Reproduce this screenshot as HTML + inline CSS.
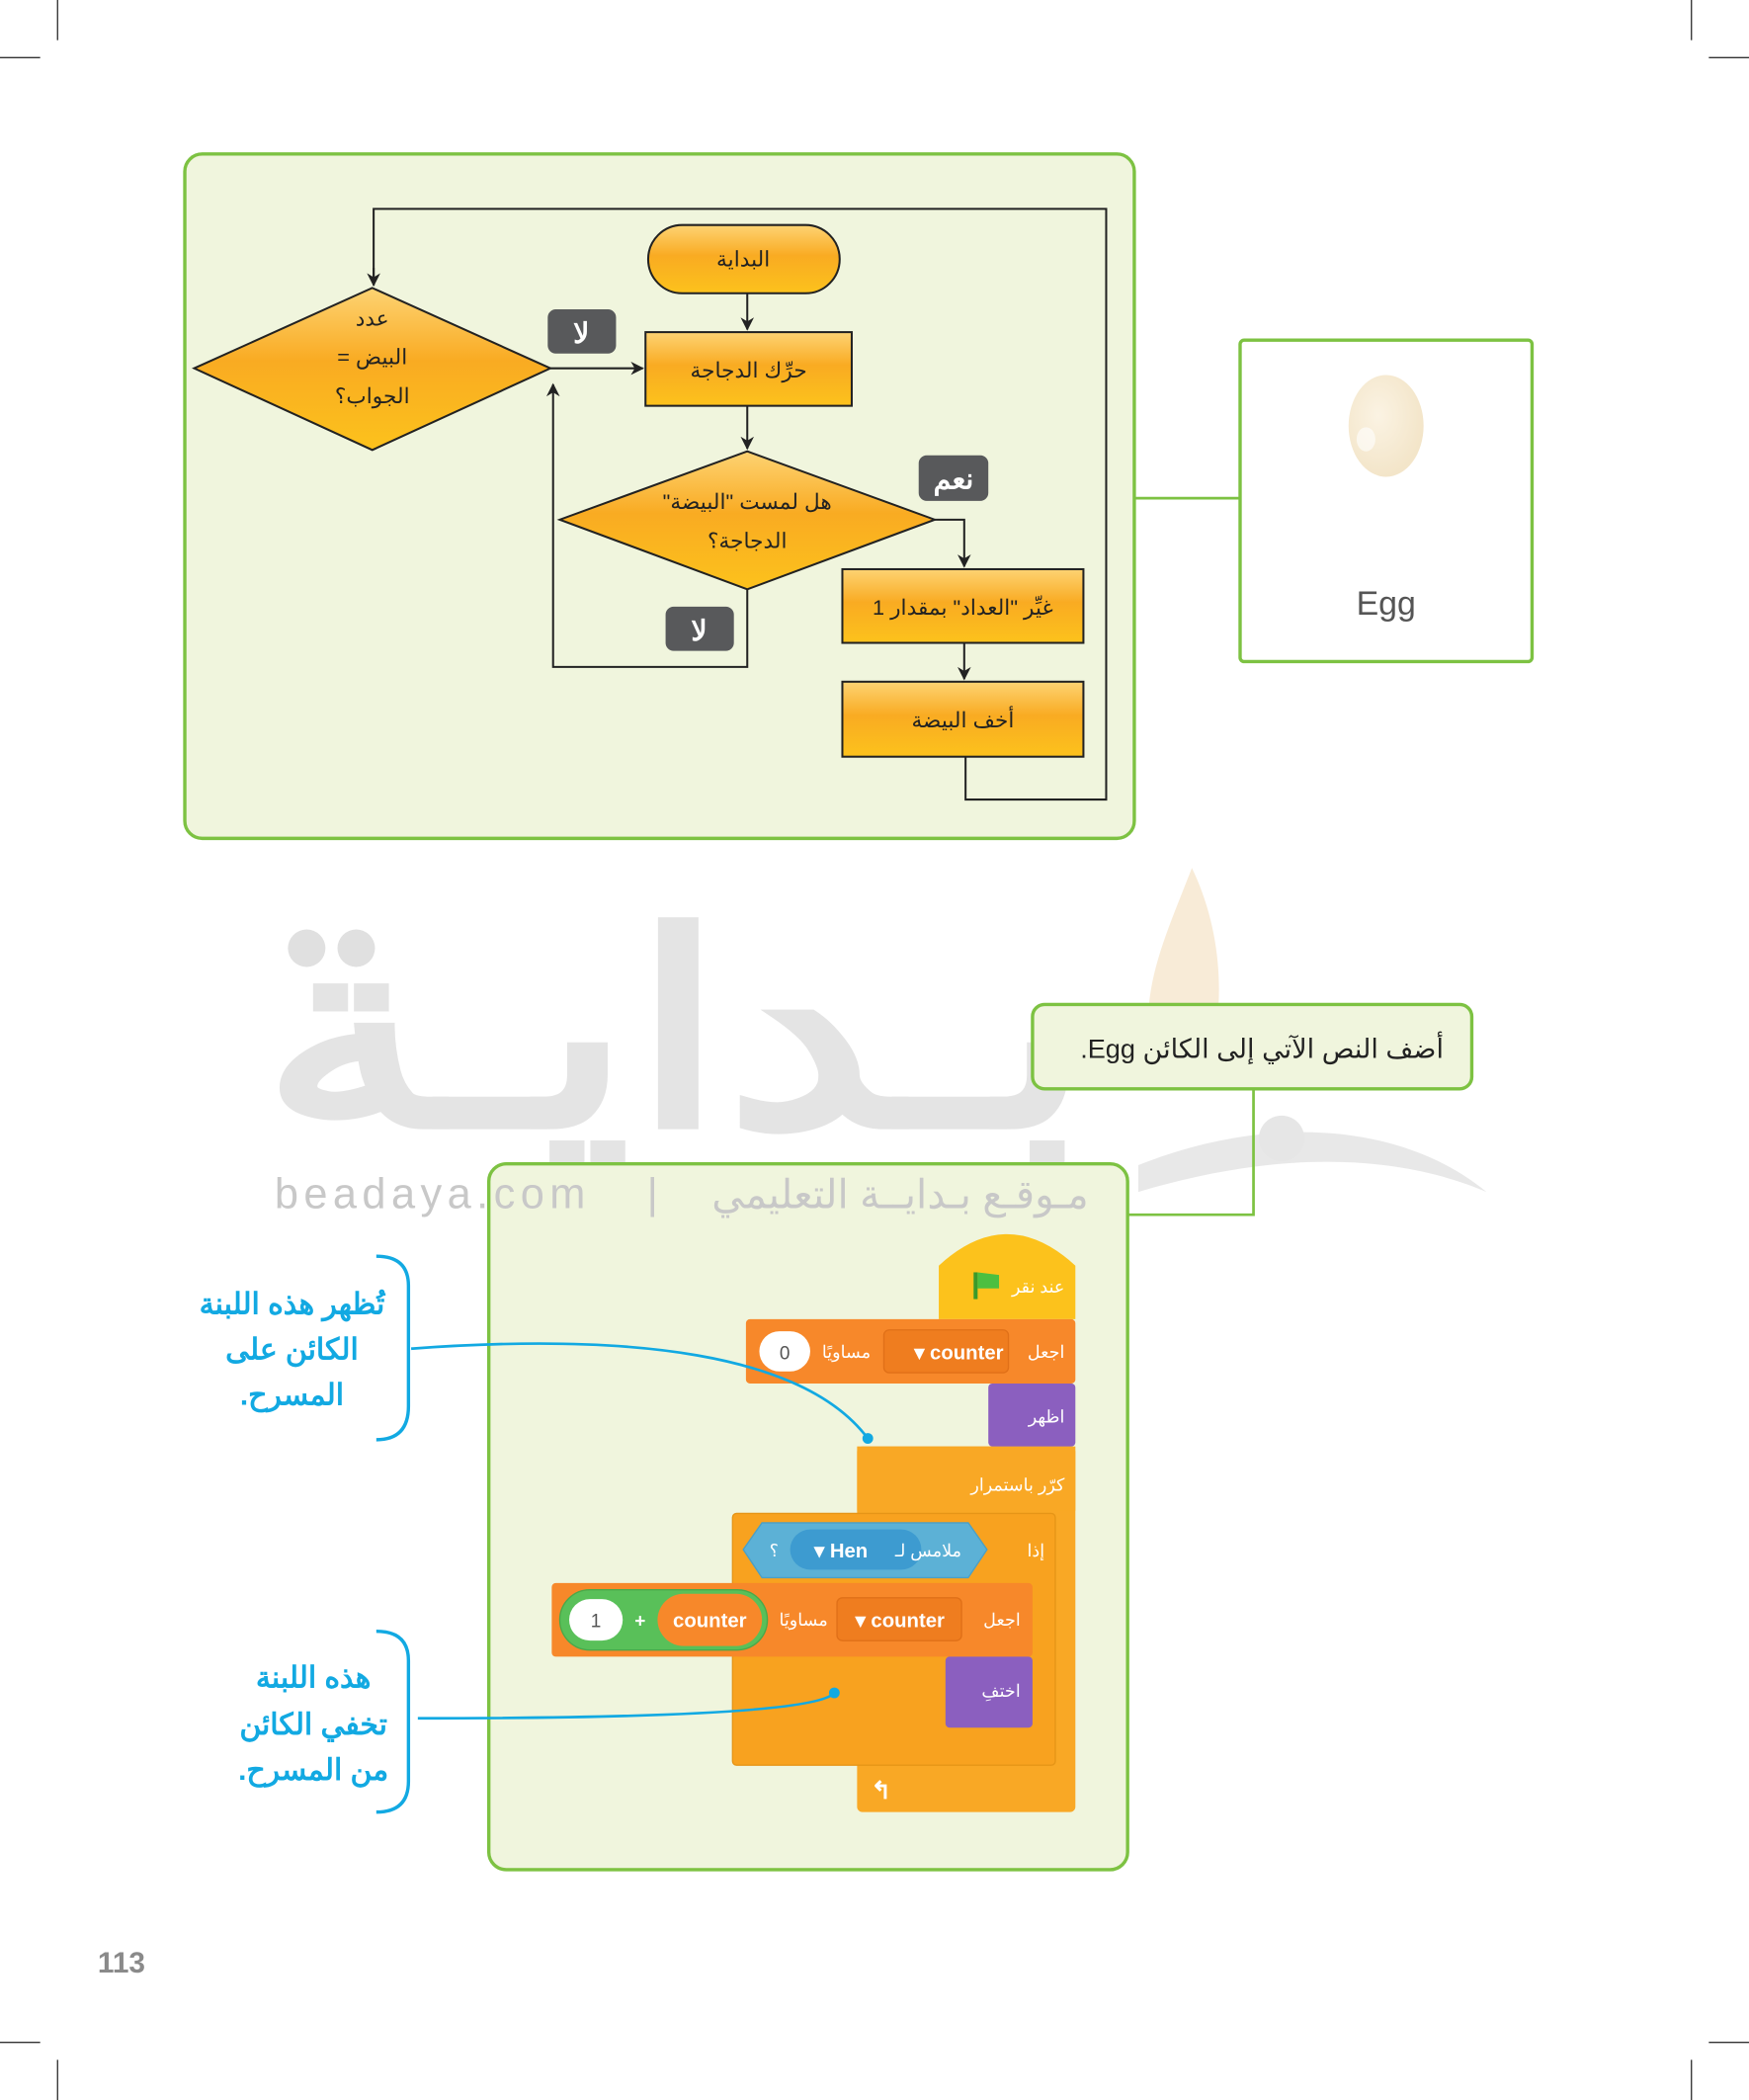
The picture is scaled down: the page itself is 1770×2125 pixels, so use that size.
<!DOCTYPE html>
<html><head><meta charset="utf-8">
<style>
html,body{margin:0;padding:0;background:#fff;}
svg{display:block;}
text{font-family:"Liberation Sans","Noto Sans CJK SC",sans-serif;}
</style></head>
<body>
<svg width="1770" height="2125" viewBox="0 0 1306 1568" preserveAspectRatio="none" xmlns="http://www.w3.org/2000/svg">
<defs>
<linearGradient id="og" x1="0" y1="0" x2="0" y2="1">
<stop offset="0" stop-color="#fdd373"/><stop offset="0.45" stop-color="#f9ab22"/><stop offset="1" stop-color="#fcc21c"/>
</linearGradient>
<radialGradient id="eg" cx="0.4" cy="0.4" r="0.6">
<stop offset="0" stop-color="#fbf3e3"/><stop offset="1" stop-color="#f3e5c9"/>
</radialGradient>
<marker id="ar" markerWidth="10" markerHeight="10" refX="9" refY="5" orient="auto" markerUnits="userSpaceOnUse">
<path d="M0,0 L10,5 L0,10 L3,5 z" fill="#222"/>
</marker>
</defs>
<!-- crop marks -->
<g stroke="#333" stroke-width="1">
<line x1="43" y1="0" x2="43" y2="30"/><line x1="0" y1="43" x2="30" y2="43"/>
<line x1="1263" y1="0" x2="1263" y2="30"/><line x1="1276" y1="43" x2="1306" y2="43"/>
<line x1="43" y1="1538" x2="43" y2="1568"/><line x1="0" y1="1525" x2="30" y2="1525"/>
<line x1="1263" y1="1538" x2="1263" y2="1568"/><line x1="1276" y1="1525" x2="1306" y2="1525"/>
</g>

<!-- panel 1 -->
<rect x="138" y="115" width="709" height="511" rx="13" fill="#f0f5dd" stroke="#7dc242" stroke-width="2.5"/>
<line x1="847" y1="372" x2="925" y2="372" stroke="#7dc242" stroke-width="2"/>
<rect x="926" y="254" width="218" height="240" rx="3" fill="#fff" stroke="#7dc242" stroke-width="2.5"/>
<ellipse cx="1035" cy="318" rx="28" ry="38" fill="url(#eg)"/>
<ellipse cx="1020" cy="328" rx="7" ry="9" fill="#fff" opacity="0.6"/>
<text x="1035" y="459" font-size="25" fill="#555" text-anchor="middle">Egg</text>

<g stroke="#222" stroke-width="1.5" fill="none">
<polyline points="279,213 279,156 826,156 826,597 721,597 721,565"/>
<polyline points="411,275 480,275" marker-end="url(#ar)"/>
<polyline points="558,219 558,246" marker-end="url(#ar)"/>
<polyline points="558,303 558,335" marker-end="url(#ar)"/>
<polyline points="558,440 558,498 413,498 413,287" marker-end="url(#ar)"/>
<polyline points="698,388 720,388 720,423" marker-end="url(#ar)"/>
<polyline points="720,480 720,507" marker-end="url(#ar)"/>
</g>
<line x1="279" y1="200" x2="279" y2="213" stroke="#222" stroke-width="1.5" marker-end="url(#ar)"/>

<g stroke="#222" stroke-width="1.5" fill="url(#og)">
<rect x="484" y="168" width="143" height="51" rx="25.5"/>
<rect x="482" y="248" width="154" height="55"/>
<polygon points="278,215 411,275 278,336 145,275"/>
<polygon points="558,337 698,388 558,440 418,388"/>
<rect x="629" y="425" width="180" height="55"/>
<rect x="629" y="509" width="180" height="56"/>
</g>
<g font-size="16" fill="#222" text-anchor="middle" direction="rtl">
<text x="555" y="199">البداية</text>
<text x="559" y="282">حرِّك الدجاجة</text>
<text x="278" y="243">عدد</text>
<text x="278" y="272">البيض =</text>
<text x="278" y="301">الجواب؟</text>
<text x="558" y="380">هل لمست "البيضة"</text>
<text x="558" y="409">الدجاجة؟</text>
<text x="719" y="459">غيِّر "العداد" بمقدار 1</text>
<text x="719" y="543">أخف البيضة</text>
</g>
<g fill="#58595b">
<rect x="409" y="231" width="51" height="33" rx="6"/>
<rect x="497" y="453" width="51" height="33" rx="6"/>
<rect x="686" y="340" width="52" height="34" rx="6"/>
</g>
<g font-size="21" font-weight="bold" fill="#fff" text-anchor="middle">
<text x="434" y="256">لا</text>
<text x="522" y="478">لا</text>
<text x="712" y="365">نعم</text>
</g>

<!-- watermark -->
<path d="M890,648 C870,700 850,740 860,790 L900,800 C915,760 915,700 890,648 z" fill="#f5e3c6" opacity="0.7"/>
<path d="M850,870 C950,830 1050,840 1110,890 C1040,860 950,860 850,890 z" fill="#e2e2e2" opacity="0.8"/>
<circle cx="957" cy="850" r="17" fill="#e6e6e6"/>
<text x="505" y="840" font-size="200" font-weight="bold" fill="#e0e0e0" text-anchor="middle" direction="rtl" opacity="0.85" textLength="620" lengthAdjust="spacingAndGlyphs">بـدايـة</text>
<circle cx="229" cy="708" r="14" fill="#e0e0e0"/><circle cx="266" cy="708" r="14" fill="#e0e0e0"/>

<!-- instruction box -->
<polyline points="936,813 936,907 842,907" fill="none" stroke="#7dc242" stroke-width="2"/>
<rect x="771" y="750" width="328" height="63" rx="9" fill="#f0f5dd" stroke="#7dc242" stroke-width="2.5"/>
<text x="1078" y="790" font-size="20" fill="#222" text-anchor="start" direction="rtl">أضف النص الآتي إلى الكائن Egg.</text>

<!-- panel 2 -->
<rect x="365" y="869" width="477" height="527" rx="13" fill="#f0f5dd" stroke="#7dc242" stroke-width="2.5"/>
<text x="205" y="902" font-size="32" fill="#c8c8c8" letter-spacing="4">beadaya.com</text>
<text x="483" y="902" font-size="32" fill="#c8c8c8">|</text>
<text x="813" y="902" font-size="30" fill="#c8c8c8" text-anchor="start" direction="rtl">مـوقـع بـدايــة التعليمي</text>

<!-- scratch -->
<g>
<path d="M701,985 L701,945 Q752,898 803,945 L803,985 z" fill="#fcc21c"/>
<rect x="727" y="950" width="3" height="20" fill="#3a9a2b"/><path d="M730,950 L746,952 L746,962 L730,962 z" fill="#4cbf40"/>
<text x="795" y="965" font-size="13" fill="#fff" text-anchor="start" direction="rtl">عند نقر</text>

<rect x="640" y="1080" width="163" height="273" rx="4" fill="#f9a825"/>
<rect x="640" y="1080" width="163" height="48" fill="#f9a825"/>
<rect x="547" y="1130" width="241" height="188" rx="3" fill="#f8a21f" stroke="#e69517" stroke-width="1"/>
<text x="795" y="1113" font-size="13" fill="#fff" text-anchor="start" direction="rtl">كرّر باستمرار</text>
<text x="658" y="1343" font-size="18" font-weight="bold" fill="#fff" text-anchor="middle">↰</text>

<rect x="557" y="985" width="246" height="48" rx="3" fill="#f7882a"/>
<text x="795" y="1014" font-size="13" fill="#fff" text-anchor="start" direction="rtl">اجعل</text>
<rect x="660" y="993" width="93" height="32" rx="4" fill="#ef7d1f" stroke="#e07018"/>
<text x="716" y="1015" font-size="15" font-weight="bold" fill="#fff" text-anchor="middle">▾ counter</text>
<text x="632" y="1014" font-size="13" fill="#fff" text-anchor="middle" direction="rtl">مساويًا</text>
<rect x="567" y="994" width="38" height="30" rx="15" fill="#fff"/>
<text x="586" y="1015" font-size="14" fill="#555" text-anchor="middle">0</text>

<rect x="738" y="1033" width="65" height="47" rx="3" fill="#8b5fbf"/>
<text x="795" y="1062" font-size="13" fill="#fff" text-anchor="start" direction="rtl">اظهر</text>

<polygon points="569,1137 723,1137 737,1157 723,1178 569,1178 555,1157" fill="#5cb1d6" stroke="#4a9fc6"/>
<rect x="590" y="1142" width="98" height="30" rx="15" fill="#3d9bd0"/>
<text x="628" y="1163" font-size="15" font-weight="bold" fill="#fff" text-anchor="middle">▾ Hen</text>
<text x="718" y="1162" font-size="13" fill="#fff" text-anchor="start" direction="rtl">ملامس لـ</text>
<text x="578" y="1162" font-size="13" fill="#fff" text-anchor="middle">؟</text>
<text x="780" y="1162" font-size="13" fill="#fff" text-anchor="start" direction="rtl">إذا</text>

<rect x="412" y="1182" width="359" height="55" rx="3" fill="#f7882a"/>
<text x="762" y="1214" font-size="13" fill="#fff" text-anchor="start" direction="rtl">اجعل</text>
<rect x="625" y="1193" width="93" height="32" rx="4" fill="#ef7d1f" stroke="#e07018"/>
<text x="672" y="1215" font-size="15" font-weight="bold" fill="#fff" text-anchor="middle">▾ counter</text>
<text x="600" y="1214" font-size="13" fill="#fff" text-anchor="middle" direction="rtl">مساويًا</text>
<rect x="418" y="1187" width="155" height="45" rx="22.5" fill="#59c059" stroke="#4aa84a"/>
<rect x="491" y="1190" width="78" height="39" rx="19.5" fill="#f7882a"/>
<text x="530" y="1215" font-size="15" font-weight="bold" fill="#fff" text-anchor="middle">counter</text>
<text x="478" y="1215" font-size="14" font-weight="bold" fill="#fff" text-anchor="middle">+</text>
<rect x="425" y="1194" width="40" height="31" rx="15.5" fill="#fff"/>
<text x="445" y="1215" font-size="14" fill="#555" text-anchor="middle">1</text>

<rect x="706" y="1237" width="65" height="53" rx="3" fill="#8b5fbf"/>
<text x="762" y="1267" font-size="13" fill="#fff" text-anchor="start" direction="rtl">اختفِ</text>
</g>

<!-- annotations -->
<g fill="none" stroke="#12a9e2" stroke-width="2.5">
<path d="M281,938 Q305,938 305,960 L305,1050 Q305,1075 281,1075"/>
<path d="M281,1218 Q305,1218 305,1240 L305,1330 Q305,1353 281,1353"/>
<path d="M307,1007 C470,995 600,1010 648,1074" stroke-width="2"/>
<path d="M312,1283 C450,1283 610,1280 623,1264" stroke-width="2"/>
</g>
<circle cx="648" cy="1074" r="4" fill="#12a9e2"/>
<circle cx="623" cy="1264" r="4" fill="#12a9e2"/>
<g font-size="22" font-weight="bold" fill="#12a9e2" text-anchor="middle" direction="rtl">
<text x="218" y="981">تُظهر هذه اللبنة</text>
<text x="218" y="1015">الكائن على</text>
<text x="218" y="1049">المسرح.</text>
<text x="234" y="1260">هذه اللبنة</text>
<text x="234" y="1295">تخفي الكائن</text>
<text x="234" y="1329">من المسرح.</text>
</g>

<text x="73" y="1473" font-size="22" font-weight="bold" fill="#8a8a8a">113</text>
</svg>
</body></html>
